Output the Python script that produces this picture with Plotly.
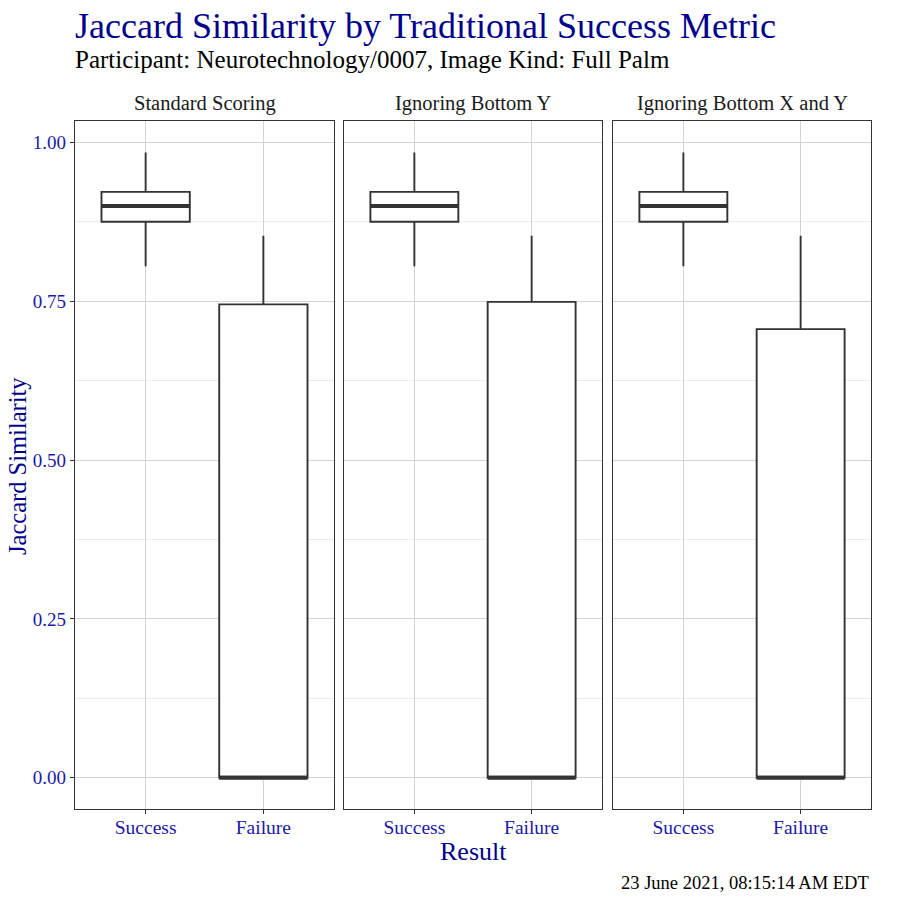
import plotly.graph_objects as go

# ---- data ----
facets = ["Standard Scoring", "Ignoring Bottom Y", "Ignoring Bottom X and Y"]
results = ["Success", "Failure"]
lower_whisker = [[0.805, 0.0], [0.805, 0.0], [0.805, 0.0]]
q1_vals = [[0.875, 0.0], [0.875, 0.0], [0.875, 0.0]]
median_vals = [[0.900, 0.0], [0.900, 0.0], [0.900, 0.0]]
q3_vals = [[0.922, 0.745], [0.922, 0.749], [0.922, 0.706]]
upper_whisker = [[0.984, 0.853], [0.984, 0.853], [0.984, 0.853]]
y_ticks = [0.0, 0.25, 0.5, 0.75, 1.0]
y_ticklabels = ["0.00", "0.25", "0.50", "0.75", "1.00"]

title_text = "Jaccard Similarity by Traditional Success Metric"
subtitle_text = "Participant: Neurotechnology/0007, Image Kind: Full Palm"
caption_text = "23 June 2021, 08:15:14 AM EDT"
x_title = "Result"
y_title = "Jaccard Similarity"

# ---- style ----
W = H = 900
FONT = "Liberation Serif"
BLUE = "#00008B"
TICKBLUE = "#1a1aa6"
DARK = "#333333"
panels_px = [(75, 334), (344, 602), (613, 871)]
top_px, bot_px = 121, 809
BOX_W = 0.75

def px_x(p):
    return p / W

def px_y(p):
    return 1 - p / H

fig = go.Figure()
xpos = list(range(len(results)))

for i, name in enumerate(facets):
    ax = "" if i == 0 else str(i + 1)
    fig.add_trace(go.Box(
        x=xpos,
        q1=q1_vals[i], median=median_vals[i], q3=q3_vals[i],
        lowerfence=lower_whisker[i], upperfence=upper_whisker[i],
        fillcolor="white", line=dict(color=DARK, width=1.9),
        whiskerwidth=0, width=BOX_W, boxpoints=False,
        xaxis="x" + ax, yaxis="y" + ax, showlegend=False, hoverinfo="skip",
    ))
    mx, my = [], []
    for j, m in enumerate(median_vals[i]):
        mx += [xpos[j] - BOX_W / 2, xpos[j] + BOX_W / 2, None]
        my += [m, m, None]
    fig.add_trace(go.Scatter(
        x=mx, y=my, mode="lines", line=dict(color=DARK, width=4),
        xaxis="x" + ax, yaxis="y" + ax, showlegend=False, hoverinfo="skip",
    ))

    l, r = panels_px[i]
    xa = dict(
        domain=[px_x(l), px_x(r)], range=[-0.6, 1.6],
        tickvals=xpos, ticktext=results, anchor="y" + ax,
        showline=True, mirror=True, linecolor=DARK, linewidth=1.2,
        showgrid=True, gridcolor="#d4d4d4", gridwidth=1.2,
        ticks="outside", ticklen=4, tickcolor=DARK, tickwidth=1.2,
        ticklabelstandoff=-4,
        tickfont=dict(family=FONT, size=19.5, color=TICKBLUE),
        zeroline=False, fixedrange=True,
    )
    ya = dict(
        domain=[px_y(bot_px), px_y(top_px)], range=[-0.0492, 1.0336],
        tickvals=y_ticks, ticktext=y_ticklabels if i == 0 else [""] * len(y_ticks),
        anchor="x" + ax,
        showline=True, mirror=True, linecolor=DARK, linewidth=1.2,
        showgrid=True, gridcolor="#d4d4d4", gridwidth=1.2,
        minor=dict(showgrid=True, tickvals=[0.125, 0.375, 0.625, 0.875],
                   gridcolor="#ebebeb", gridwidth=0.8),
        ticks="outside" if i == 0 else "", ticklen=4, tickcolor=DARK, tickwidth=1.2,
        tickfont=dict(family=FONT, size=19, color=TICKBLUE),
        zeroline=False, fixedrange=True,
    )
    fig.update_layout(**{"xaxis" + ax: xa, "yaxis" + ax: ya})

    fig.add_annotation(
        text=name, x=(px_x(l) + px_x(r)) / 2, y=px_y(103),
        xref="paper", yref="paper", xanchor="center", yanchor="middle",
        showarrow=False, font=dict(family=FONT, size=20.5, color="#1a1a1a"),
    )

anns = [
    dict(text=title_text, x=px_x(73), y=px_y(26), xanchor="left", yanchor="middle",
         font=dict(family=FONT, size=36, color=BLUE)),
    dict(text=subtitle_text, x=px_x(73), y=px_y(59), xanchor="left", yanchor="middle",
         font=dict(family=FONT, size=25, color="black")),
    dict(text=x_title, x=(px_x(75) + px_x(871)) / 2, y=px_y(851), xanchor="center",
         yanchor="middle", font=dict(family=FONT, size=26, color=BLUE)),
    dict(text=y_title, x=px_x(17), y=px_y(466), xanchor="center", yanchor="middle",
         textangle=-90, font=dict(family=FONT, size=24.5, color=BLUE)),
    dict(text=caption_text, x=px_x(871), y=px_y(883), xanchor="right", yanchor="middle",
         font=dict(family=FONT, size=18.5, color="black")),
]
for a in anns:
    fig.add_annotation(xref="paper", yref="paper", showarrow=False, **a)

fig.update_layout(
    width=W, height=H, margin=dict(l=0, r=0, t=0, b=0),
    paper_bgcolor="white", plot_bgcolor="white",
    font=dict(family=FONT),
)

fig.write_html("out.html")
